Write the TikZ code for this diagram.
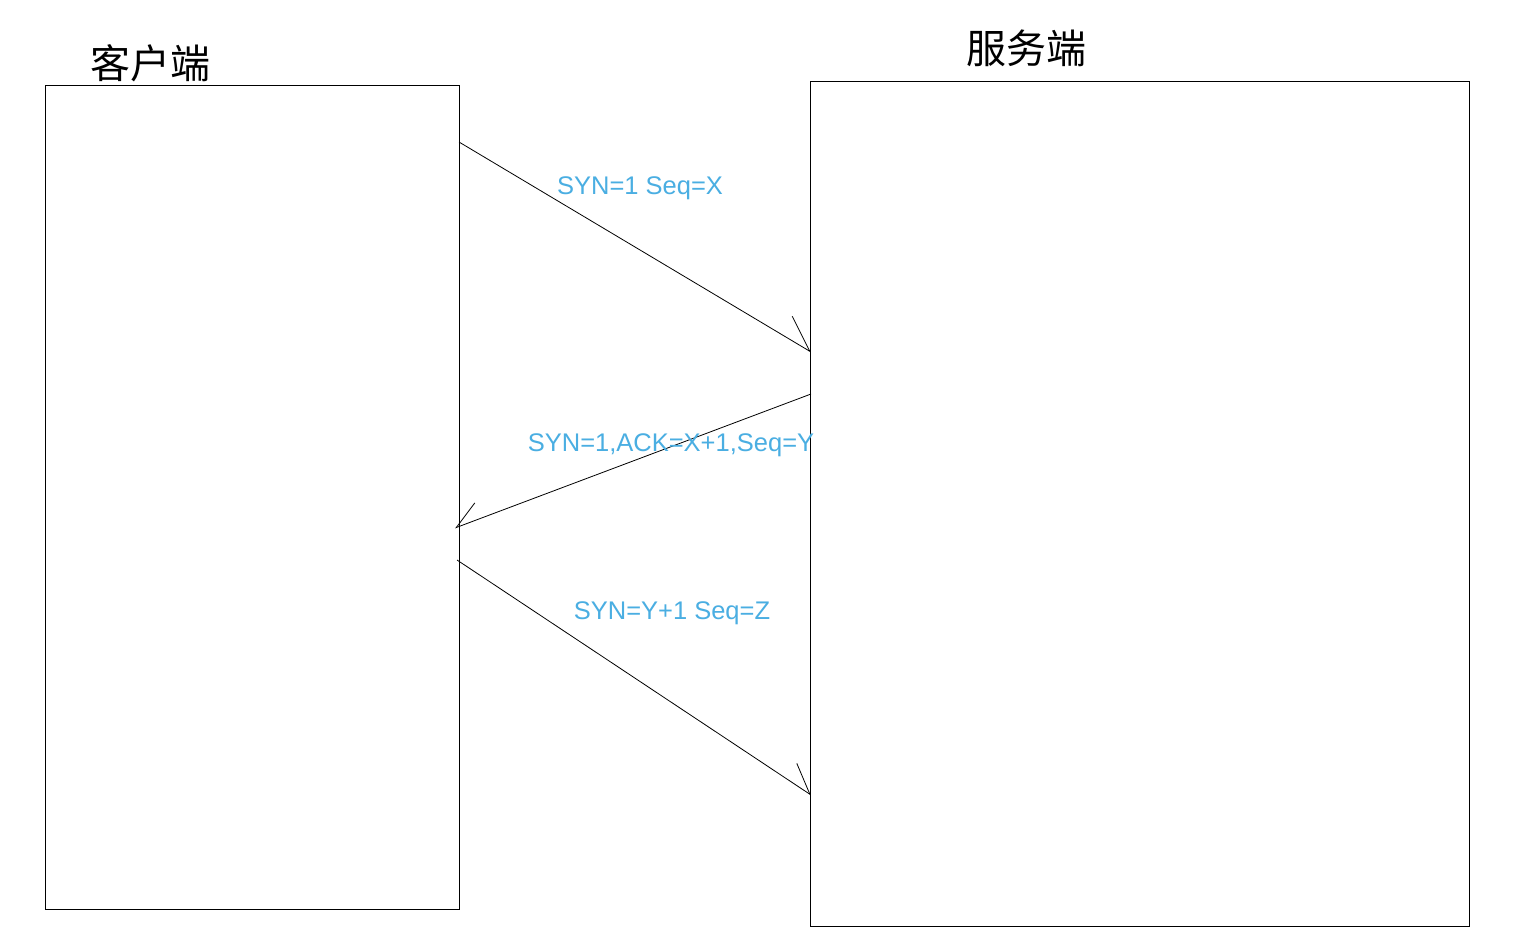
\documentclass[tikz,border=0pt]{standalone}
\usepackage{fontspec}
\setmainfont{Liberation Sans}
\newfontfamily\cjk{Noto Sans CJK SC}
\usetikzlibrary{arrows.meta}
\definecolor{lblue}{RGB}{74,174,226}
\begin{document}
\begin{tikzpicture}[x=1pt,y=-1pt,
  box/.style={draw=black,line width=1pt},
  msg/.style={draw=black,line width=0.8pt},
  lbl/.style={text=lblue,font=\fontsize{25.5}{30}\selectfont,inner sep=0pt,anchor=base},
  ttl/.style={font=\cjk\fontsize{40}{46}\selectfont,inner sep=0pt}]
\useasboundingbox (0,0) rectangle (1518,952);
\fill[white] (0,0) rectangle (1518,952);
% boxes
\node[box,minimum width=414pt,minimum height=824pt,inner sep=0pt,anchor=north west] (client) at (45,85) {};
\node[box,minimum width=659pt,minimum height=845pt,inner sep=0pt,anchor=north west] (server) at (810,81) {};
% titles
\node[ttl] (tc) at (150,63) {客户端};
\node[ttl] (ts) at (1026,48) {服务端};
% endpoints
\coordinate (a1) at (459,142);
\coordinate (b1) at (811,352);
\coordinate (a2) at (811,394);
\coordinate (b2) at (455,528);
\coordinate (a3) at (457,560);
\coordinate (b3) at (811,795);
% messages
\draw[msg,-{Straight Barb[harpoon,length=33pt,width=42pt,line width=0.8pt]}] (a1) -- (b1);
\draw[msg,-{Straight Barb[harpoon,swap,length=26pt,width=33pt,line width=0.8pt]}] (a2) -- (b2);
\draw[msg,-{Straight Barb[harpoon,length=28pt,width=37pt,line width=0.8pt]}] (a3) -- (b3);
% labels
\node[lbl] (l1) at (640,195) {SYN=1 Seq=X};
\node[lbl] (l2) at (671,451) {SYN=1,ACK=X+1,Seq=Y};
\node[lbl] (l3) at (672,619) {SYN=Y+1 Seq=Z};
\end{tikzpicture}
\end{document}
